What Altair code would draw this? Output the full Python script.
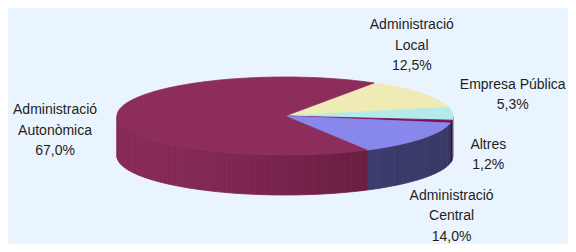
import math
import altair as alt
import pandas as pd

# ---------------- data ----------------
categories = ["Administració Local", "Empresa Pública", "Altres",
              "Administració Central", "Administració Autonòmica"]
label_lines = [["Administració", "Local"], ["Empresa Pública"], ["Altres"],
               ["Administració", "Central"], ["Administració", "Autonòmica"]]
values = [12.5, 5.3, 1.2, 14.0, 67.0]

# ---------------- style / layout ----------------
top_colors = ["#efebb4", "#b6eaea", "#7a1060", "#8888ec", "#8c2d5b"]
side_light = ["#c9c597", "#8fc0c0", "#5a0c48", "#45457a", "#872a58"]
side_dark = ["#b3af85", "#7aa6a6", "#4a083a", "#383866", "#571632"]
CX, CY, A, B, DEPTH = 285.0, 116.0, 168.0, 39.0, 40.0   # page pixels
START = 58.0          # parametric angle (deg) where the first slice starts, clockwise
# first-line centre of each label = rim point at slice mid-angle + offset (pixels)
label_offsets = [(-10, -68), (60, -29), (37, 23), (30, 57), (-62, -5)]
LINE_H = 20.5
BG = "#eaf4fe"
FONT = "Liberation Sans, Arial, sans-serif"
FONT_SIZE = 14

MARGIN = 8
W, H = 576 - 2 * MARGIN, 252 - 2 * MARGIN


def rim(t_deg, dy=0.0):
    t = math.radians(t_deg)
    return CX + A * math.cos(t), CY - B * math.sin(t) + dy


def hexmix(c1, c2, f):
    a = [int(c1[i:i + 2], 16) for i in (1, 3, 5)]
    b = [int(c2[i:i + 2], 16) for i in (1, 3, 5)]
    m = [round(a[k] * (1 - f) + b[k] * f) for k in range(3)]
    return "#" + "".join(f"{v:02x}" for v in m)


total = sum(values)
tops, sides, labels = [], [], []
t = START
for i, (cat, v) in enumerate(zip(categories, values)):
    span = v / total * 360.0
    t0, t1 = t, t - span
    # top face
    pts = [(CX, CY)]
    n = max(2, int(span / 1.0) + 1)
    for k in range(n + 1):
        pts.append(rim(t0 + (t1 - t0) * k / n))
    for j, (x, y) in enumerate(pts):
        tops.append({"poly": cat, "ord": j, "x": x, "y": y, "c": top_colors[i]})
    # side wall (front half: sin t < 0)
    lo, hi = max(t1, -180.0), min(t0, 0.0)
    lo2, hi2 = max(t1 + 360, -180.0), min(t0 + 360, 0.0)
    for (s_lo, s_hi) in [(lo, hi), (lo2, hi2)]:
        if s_hi <= s_lo:
            continue
        m = max(1, int((s_hi - s_lo) / 2.0) + 1)
        for k in range(m):
            ta = s_hi - (s_hi - s_lo) * k / m
            tb = s_hi - (s_hi - s_lo) * (k + 1) / m
            xa, ya = rim(ta)
            xb, yb = rim(tb)
            f = ((xa + xb) / 2 - (CX - A)) / (2 * A)
            f = min(1.0, max(0.0, f)) ** 1.6
            col = hexmix(side_light[i], side_dark[i], f)
            pid = f"{cat}-{s_lo:.1f}-{k}"
            quad = [(xa, ya), (xb, yb), (xb, yb + DEPTH), (xa, ya + DEPTH)]
            for j, (x, y) in enumerate(quad):
                sides.append({"poly": pid, "ord": j, "x": x, "y": y, "c": col})
    # label
    mx, my = rim((t0 + t1) / 2)
    dx, dy = label_offsets[i]
    pct = f"{v:.1f}".replace(".", ",") + "%"
    labels.append({"x": mx + dx, "y": my + dy, "txt": label_lines[i] + [pct]})
    t = t1

# scales map page-pixel values onto the plot area (which starts at the 8px margin)
xs = alt.Scale(domain=[MARGIN, MARGIN + W], range=[0, W])
ys = alt.Scale(domain=[MARGIN, MARGIN + H], range=[0, H])


def poly_layer(df):
    return alt.Chart(df).mark_line(interpolate="linear-closed", strokeWidth=0.8,
                                   filled=True).encode(
        x=alt.X("x:Q", scale=xs, axis=None),
        y=alt.Y("y:Q", scale=ys, axis=None),
        order="ord:Q",
        detail="poly:N",
        fill=alt.Fill("c:N", scale=None),
        stroke=alt.Stroke("c:N", scale=None),
    )


side_layer = poly_layer(pd.DataFrame(sides))
top_layer = poly_layer(pd.DataFrame(tops))

text_layer = alt.Chart(pd.DataFrame(labels)).mark_text(
    font=FONT, fontSize=FONT_SIZE, color="#1e1e1e", align="center",
    baseline="middle", lineHeight=LINE_H,
).encode(
    x=alt.X("x:Q", scale=xs, axis=None),
    y=alt.Y("y:Q", scale=ys, axis=None),
    text="txt",
)

chart = alt.layer(side_layer, top_layer, text_layer).properties(
    width=W, height=H, background=BG, padding=0,
    autosize=alt.AutoSizeParams(type="none"),
).configure_view(stroke=None)

chart.save("out.html", embed_options={"renderer": "svg", "actions": False})
